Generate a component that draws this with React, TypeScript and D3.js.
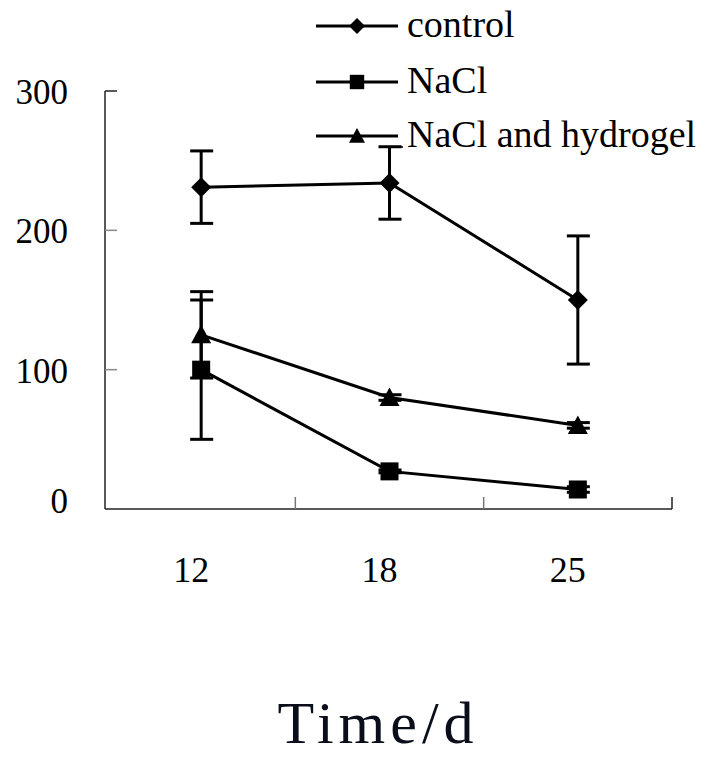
import React from "react";
import * as d3 from "d3";

const days = ["12", "18", "25"];
const yTicks = [0, 100, 200, 300];

const controlMean = [231, 234, 150];
const controlErr = [26, 26, 46];
const naclMean = [100, 27, 14];
const naclErr = [50, 1, 2];
const gelMean = [125, 80, 60];
const gelErr = [31, 2, 2];

const seriesNames = ["control", "NaCl", "NaCl and hydrogel"];
const seriesShapes = ["diamond", "square", "triangle"];

const W = 710;
const H = 761;
const serif = "'Liberation Serif', 'Times New Roman', serif";

const Marker = ({ shape, cx, cy, r }) => {
  if (shape === "diamond") {
    return <path d={`M${cx},${cy - r}L${cx + r},${cy}L${cx},${cy + r}L${cx - r},${cy}Z`} fill="#000" />;
  }
  if (shape === "square") {
    return <rect x={cx - r * 0.9} y={cy - r * 0.9} width={r * 1.8} height={r * 1.8} fill="#000" />;
  }
  return <path d={`M${cx},${cy - r}L${cx + r},${cy + r * 0.85}L${cx - r},${cy + r * 0.85}Z`} fill="#000" />;
};

export default function App() {
  const x = d3.scaleBand().domain(days).range([107, 672]).padding(0);
  const y = d3.scaleLinear().domain([0, 300]).range([509, 91]);
  const cx = (d) => x(d) + x.bandwidth() / 2;

  const series = [
    { name: seriesNames[0], shape: seriesShapes[0], mean: controlMean, err: controlErr },
    { name: seriesNames[1], shape: seriesShapes[1], mean: naclMean, err: naclErr },
    { name: seriesNames[2], shape: seriesShapes[2], mean: gelMean, err: gelErr },
  ];

  const line = d3
    .line()
    .x((d) => d[0])
    .y((d) => d[1]);

  const axisLeft = 105;
  const axisBottom = y(0);
  const axisRight = x.range()[1];

  // boundaries between categories, for the x ticks
  const xBounds = days.slice(1).map((d) => x(d)).concat([axisRight]);

  const legendX1 = 316;
  const legendX2 = 398;
  const legendY = [26, 82, 136];

  return (
    <svg width={W} height={H} style={{ display: "block", margin: "-8px", background: "#fff" }}>
      {/* axes */}
      <line x1={axisLeft} x2={axisLeft} y1={y(300)} y2={axisBottom} stroke="#222" strokeWidth={1.5} />
      <line x1={axisLeft} x2={axisRight} y1={axisBottom} y2={axisBottom} stroke="#222" strokeWidth={1.5} />
      {yTicks.map((t) => (
        <g key={t}>
          {t > 0 && (
            <line x1={axisLeft} x2={axisLeft + 12} y1={y(t)} y2={y(t)} stroke={t === 300 ? "#222" : "#888"} strokeWidth={1.5} />
          )}
          <text
            x={68}
            y={y(t) + (t === 0 ? -4 : 5)}
            textAnchor="end"
            dominantBaseline="middle"
            fontFamily={serif}
            fontSize={35}
            fill="#000"
          >
            {t}
          </text>
        </g>
      ))}
      {xBounds.map((b, i) => (
        <line key={i} x1={b} x2={b} y1={axisBottom} y2={axisBottom - 12} stroke={i === xBounds.length - 1 ? "#222" : "#777"} strokeWidth={1.5} />
      ))}
      {days.map((d) => (
        <text key={d} x={cx(d) - 10} y={582} textAnchor="middle" fontFamily={serif} fontSize={36} fill="#000">
          {d}
        </text>
      ))}

      {/* series */}
      {series.map((s) => (
        <g key={s.name}>
          {days.map((d, i) => (
            <g key={d} stroke="#000" strokeWidth={3}>
              <line x1={cx(d)} x2={cx(d)} y1={y(s.mean[i] + s.err[i])} y2={y(s.mean[i] - s.err[i])} />
              <line x1={cx(d) - 1} x2={cx(d) + 22} y1={y(s.mean[i] + s.err[i])} y2={y(s.mean[i] + s.err[i])} transform="translate(-10,0)" />
              <line x1={cx(d) - 1} x2={cx(d) + 22} y1={y(s.mean[i] - s.err[i])} y2={y(s.mean[i] - s.err[i])} transform="translate(-10,0)" />
            </g>
          ))}
          <path d={line(days.map((d, i) => [cx(d), y(s.mean[i])]))} fill="none" stroke="#000" strokeWidth={3} />
          {days.map((d, i) => (
            <Marker key={d} shape={s.shape} cx={cx(d)} cy={y(s.mean[i])} r={10} />
          ))}
        </g>
      ))}

      {/* legend */}
      {series.map((s, i) => (
        <g key={s.name}>
          <line x1={legendX1} x2={legendX2} y1={legendY[i]} y2={legendY[i]} stroke="#000" strokeWidth={3} />
          <Marker shape={s.shape} cx={(legendX1 + legendX2) / 2} cy={legendY[i]} r={8} />
          <text x={407} y={legendY[i] + 11} fontFamily={serif} fontSize={38} fill="#000">
            {s.name}
          </text>
        </g>
      ))}
      <line x1={383} x2={403} y1={legendY[2] + 11} y2={legendY[2] + 11} stroke="#000" strokeWidth={1.5} />

      {/* axis title */}
      <text x={378} y={743} textAnchor="middle" fontFamily={serif} fontSize={60} letterSpacing={5} fill="#0a0d1a">
        Time/d
      </text>
    </svg>
  );
}
